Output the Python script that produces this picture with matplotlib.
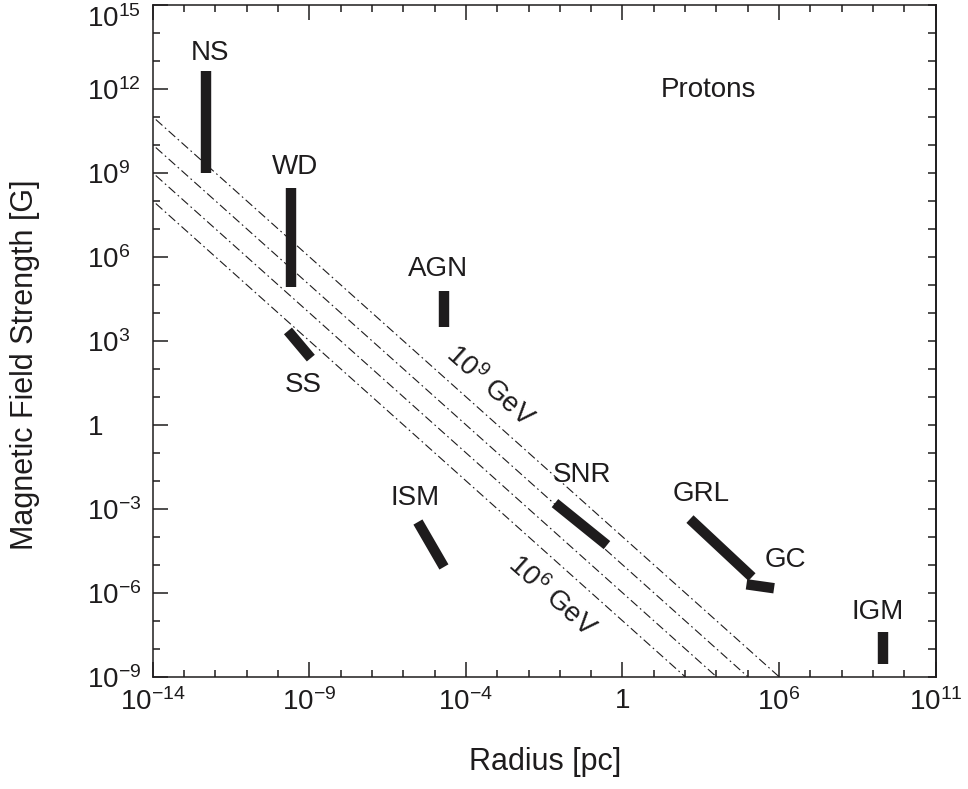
import matplotlib
matplotlib.use("Agg")
import matplotlib.pyplot as plt
from matplotlib.ticker import NullFormatter, NullLocator
import numpy as np

plt.rcParams['font.family'] = ['Liberation Sans', 'DejaVu Sans']
plt.rcParams['mathtext.fontset'] = 'custom'
plt.rcParams['mathtext.rm'] = 'Liberation Sans'
plt.rcParams['mathtext.it'] = 'Liberation Sans:italic'
plt.rcParams['mathtext.bf'] = 'Liberation Sans:bold'

# Sources: log10 radius [pc] and log10 field [G] at both ends of each bar
names = ['NS', 'WD', 'AGN', 'SS', 'ISM', 'SNR', 'GRL', 'GC', 'IGM']
log_r0 = [-12.30, -9.57, -4.69, -9.68, -5.53, -1.155, 3.155, 4.96, 9.31]
log_r1 = [-12.30, -9.57, -4.69, -8.95, -4.70, 0.505, 5.135, 5.84, 9.31]
log_b0 = [12.64, 8.44, 4.79, 3.35, -3.475, -2.80, -3.37, -5.70, -7.39]
log_b1 = [9.00, 4.91, 3.48, 2.38, -5.08, -4.30, -5.44, -5.84, -8.53]

# Hillas lines: log10(B * R) for 10^9 ... 10^6 GeV
hillas_const = [-3, -4, -5, -6]
hillas_r_start = -13.9

x_ticks = [-14, -9, -4, 1, 6, 11]
x_labels = ['$10^{-14}$', '$10^{-9}$', '$10^{-4}$', '1', '$10^{6}$', '$10^{11}$']
y_ticks = [15, 12, 9, 6, 3, 0, -3, -6, -9]
y_labels = ['$10^{15}$', '$10^{12}$', '$10^{9}$', '$10^{6}$', '$10^{3}$', '1',
            '$10^{-3}$', '$10^{-6}$', '$10^{-9}$']

# label positions (log10 r, log10 B)
label_pos = {
    'NS': (-12.17, 13.27), 'WD': (-9.47, 9.22), 'AGN': (-4.89, 5.56),
    'SS': (-9.2, 1.43), 'ISM': (-5.63, -2.62), 'SNR': (-0.29, -1.81),
    'GRL': (3.51, -2.46), 'GC': (6.19, -4.83), 'IGM': (9.16, -6.69),
}

ink = '#1e1c1d'

fig = plt.figure(figsize=(9.68, 7.89), dpi=100)
ax = fig.add_axes([0.1577, 0.1423, 0.8089, 0.8517])
ax.set_xscale('log')
ax.set_yscale('log')
ax.set_xlim(1e-14, 1e11)
ax.set_ylim(1e-9, 1e15)

# dash-dot Hillas lines, down to B = 1e-9
for c in hillas_const:
    lr = np.array([hillas_r_start, c + 9])
    ax.plot(10.0 ** lr, 10.0 ** (c - lr), color=ink, lw=0.8,
            linestyle=(0, (8, 3, 1.5, 3)))

# source bars
for n, r0, r1, b0, b1 in zip(names, log_r0, log_r1, log_b0, log_b1):
    ax.plot([10.0 ** r0, 10.0 ** r1], [10.0 ** b0, 10.0 ** b1], color=ink,
            lw=7.5, solid_capstyle='butt', solid_joinstyle='miter')
    lx, ly = label_pos[n]
    ax.text(10.0 ** lx, 10.0 ** ly, n, fontsize=20, color=ink,
            ha='center', va='center')

ax.text(10.0 ** 3.73, 10.0 ** 11.97, 'Protons', fontsize=20, color=ink,
        ha='center', va='center')
ax.text(10.0 ** -3.23, 10.0 ** 1.38, '$10^{9}$ GeV', fontsize=20, color=ink,
        ha='center', va='center', rotation=-41.8, rotation_mode='anchor')
ax.text(10.0 ** -1.25, 10.0 ** -6.15, '$10^{6}$ GeV', fontsize=20, color=ink,
        ha='center', va='center', rotation=-41.8, rotation_mode='anchor')

# ticks
ax.set_xticks([10.0 ** t for t in x_ticks], x_labels)
ax.set_yticks([10.0 ** t for t in y_ticks], y_labels)
ax.set_xticks([10.0 ** t for t in range(-14, 12) if t not in x_ticks], minor=True)
ax.set_yticks([10.0 ** t for t in range(-9, 16) if t not in y_ticks], minor=True)
ax.xaxis.set_minor_formatter(NullFormatter())
ax.yaxis.set_minor_formatter(NullFormatter())
ax.tick_params(which='both', direction='in', top=True, right=False,
               width=1.1, colors=ink, labelsize=20)
ax.tick_params(which='major', length=10.5)
ax.tick_params(which='minor', length=5)
ax.tick_params(axis='x', which='major', pad=8)
ax.tick_params(axis='y', which='major', pad=47)
ylabs = ax.get_yticklabels()
for lab in ylabs:
    lab.set_horizontalalignment('left')
ylabs[0].set_verticalalignment('top')  # top label sits below the frame edge

# right side: one equal tick per decade
sec = ax.secondary_yaxis('right')
sec.set_yticks([10.0 ** t for t in range(-9, 16)])
sec.yaxis.set_minor_locator(NullLocator())
sec.tick_params(direction='in', length=5.8, width=1.1, labelright=False,
                colors=ink)
sec.spines['right'].set_linewidth(1.1)

for s in ax.spines.values():
    s.set_linewidth(1.1)
    s.set_color(ink)

fig.text(545 / 968, 1 - 762 / 789, 'Radius [pc]', fontsize=22, color=ink,
         ha='center', va='center')
fig.text(25 / 968, 1 - 365 / 789, 'Magnetic Field Strength [G]', fontsize=22,
         color=ink, ha='center', va='center', rotation=90)

fig.savefig('out.png', dpi=100)
